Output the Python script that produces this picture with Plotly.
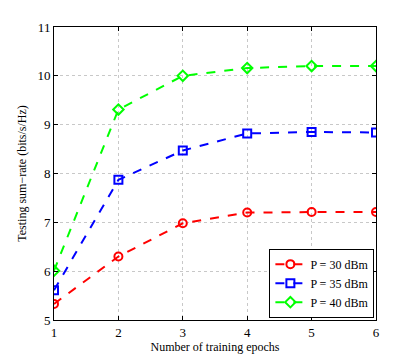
import plotly.graph_objects as go

epochs = [1, 2, 3, 4, 5, 6]
rate_30 = [5.33, 6.30, 6.98, 7.20, 7.21, 7.21]
rate_35 = [5.61, 7.87, 8.47, 8.82, 8.85, 8.84]
rate_40 = [6.01, 9.31, 10.0, 10.16, 10.20, 10.20]

series = [
    ("P = 30 dBm", rate_30, "#ff0000", "circle-open"),
    ("P = 35 dBm", rate_35, "#0000ff", "square-open"),
    ("P = 40 dBm", rate_40, "#00ff00", "diamond-open"),
]

serif = "Liberation Serif"

fig = go.Figure()
for name, ys, color, symbol in series:
    fig.add_trace(go.Scatter(
        x=epochs, y=ys, name=name, mode="lines+markers",
        line=dict(color=color, width=2, dash="dash"),
        marker=dict(symbol=symbol, size=8, color=color, line=dict(width=2, color=color)),
    ))

axis_style = dict(
    showline=True, linecolor="black", linewidth=1, mirror="ticks",
    ticks="inside", ticklen=4, tickcolor="black",
    showgrid=True, gridcolor="#c8c8c8", griddash="dot", gridwidth=1,
    zeroline=False, tickfont=dict(family=serif, size=13, color="black"),
)

fig.update_xaxes(range=[1, 6], dtick=1,
                 title=dict(text="Number of training epochs", font=dict(family=serif, size=12), standoff=0),
                 **axis_style)
fig.update_yaxes(range=[5, 11], dtick=1,
                 title=dict(text="Testing sum\u2212rate (bits/s/Hz)", font=dict(family=serif, size=12), standoff=8),
                 **axis_style)

# page body has an 8px margin, so shift the plot area back
fig.update_layout(
    width=415, height=360,
    margin=dict(l=46, r=47, t=19, b=48),
    plot_bgcolor="white", paper_bgcolor="white",
    font=dict(family=serif, size=12, color="black"),
    legend=dict(x=0.995, y=0.008, xanchor="right", yanchor="bottom",
                bgcolor="white", bordercolor="black", borderwidth=1,
                font=dict(family=serif, size=12), tracegroupgap=0,
                itemwidth=30),
    showlegend=True,
)

fig.write_html("out.html")
